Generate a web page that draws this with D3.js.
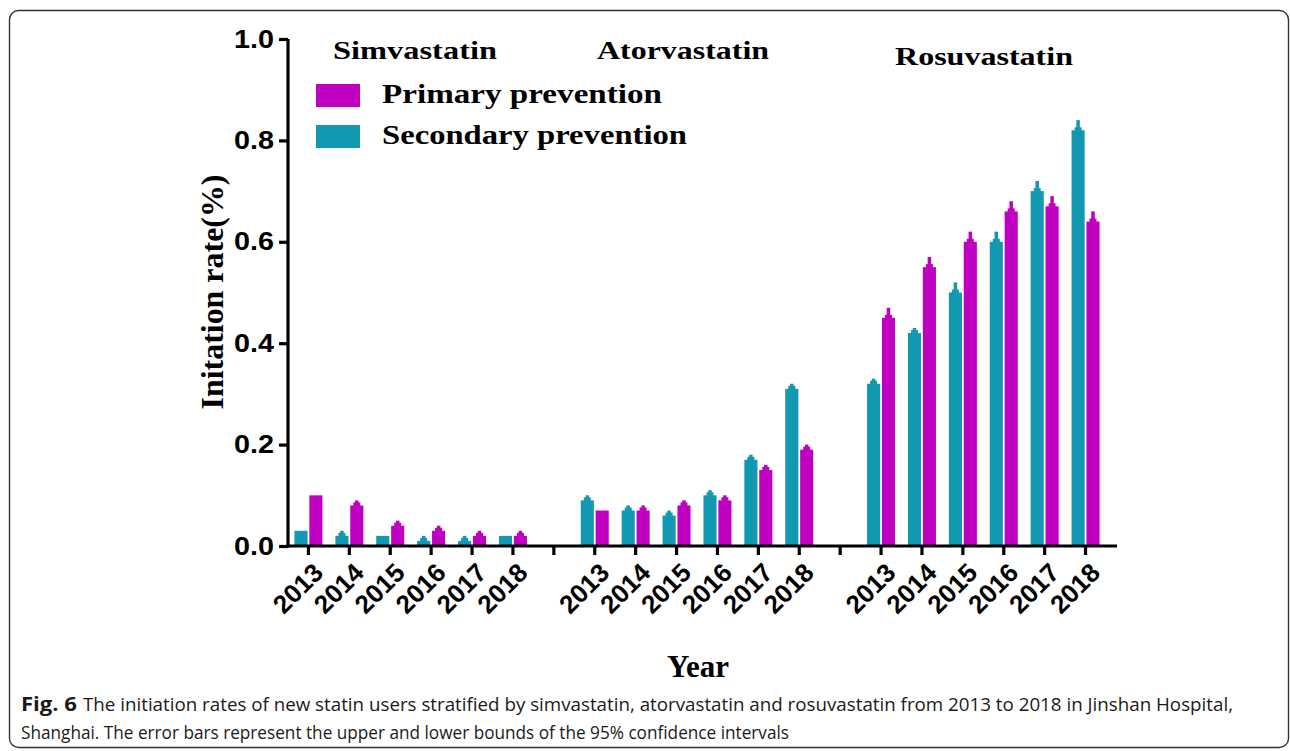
<!DOCTYPE html>
<html>
<head>
<meta charset="utf-8">
<script src="https://cdn.jsdelivr.net/npm/d3@7"></script>
<style>
  html, body { margin: 0; padding: 0; background: #fff; }
  svg { display: block; }
</style>
</head>
<body>
<svg id="chart" width="1290" height="751"></svg>
<script>
// Statin groups and study years
const drugs = ["Simvastatin", "Atorvastatin", "Rosuvastatin"];
const years = ["2013", "2014", "2015", "2016", "2017", "2018"];
const seriesNames = ["Primary prevention", "Secondary prevention"];
const yTicks = [0, 0.2, 0.4, 0.6, 0.8, 1.0];

// Secondary prevention: initiation rate and upper 95% CI bound, per drug
const secondarySim  = [0.03, 0.02, 0.02, 0.01, 0.01, 0.02];
const secondaryAtor = [0.09, 0.07, 0.06, 0.10, 0.17, 0.31];
const secondaryRosu = [0.32, 0.42, 0.50, 0.60, 0.70, 0.82];
const secondaryUpperSim  = [0.03, 0.03, 0.02, 0.02, 0.02, 0.02];
const secondaryUpperAtor = [0.10, 0.08, 0.07, 0.11, 0.18, 0.32];
const secondaryUpperRosu = [0.33, 0.43, 0.52, 0.62, 0.72, 0.84];

// Primary prevention: initiation rate and upper 95% CI bound, per drug
const primarySim  = [0.10, 0.08, 0.04, 0.03, 0.02, 0.02];
const primaryAtor = [0.07, 0.07, 0.08, 0.09, 0.15, 0.19];
const primaryRosu = [0.45, 0.55, 0.60, 0.66, 0.67, 0.64];
const primaryUpperSim  = [0.10, 0.09, 0.05, 0.04, 0.03, 0.03];
const primaryUpperAtor = [0.07, 0.08, 0.09, 0.10, 0.16, 0.20];
const primaryUpperRosu = [0.47, 0.57, 0.62, 0.68, 0.69, 0.66];

const secondaryByDrug = [secondarySim, secondaryAtor, secondaryRosu];
const secondaryUpperByDrug = [secondaryUpperSim, secondaryUpperAtor, secondaryUpperRosu];
const primaryByDrug = [primarySim, primaryAtor, primaryRosu];
const primaryUpperByDrug = [primaryUpperSim, primaryUpperAtor, primaryUpperRosu];

const colors = { primary: "#c000c0", secondary: "#1298b1" };

// Slots along the x axis: six years per drug, with an empty slot between groups
const slots = [];
drugs.forEach((d, i) => {
  years.forEach(y => slots.push({ key: d + "|" + y, drug: d, year: y }));
  if (i < drugs.length - 1) slots.push({ key: "gap" + i, drug: null, year: "" });
});

// Flattened bar records
const bars = [];
drugs.forEach((d, di) => {
  years.forEach((y, yi) => {
    bars.push({ slot: d + "|" + y, series: "secondary", value: secondaryByDrug[di][yi], upper: secondaryUpperByDrug[di][yi] });
    bars.push({ slot: d + "|" + y, series: "primary", value: primaryByDrug[di][yi], upper: primaryUpperByDrug[di][yi] });
  });
});

const svg = d3.select("#chart");
const serif = "'Liberation Serif', 'Times New Roman', serif";
const sans = "'Liberation Sans', Arial, sans-serif";

// Figure frame
svg.append("rect")
  .attr("x", 9.5).attr("y", 10.5)
  .attr("width", 1279).attr("height", 737)
  .attr("rx", 9).attr("ry", 9)
  .attr("fill", "none").attr("stroke", "#333").attr("stroke-width", 1.4);

const x = d3.scaleBand().domain(slots.map(s => s.key)).range([288, 1106]).padding(0);
const y = d3.scaleLinear().domain([0, 1]).range([546, 39]);
const inner = d3.scaleBand().domain(["secondary", "primary"]).range([-14, 14]).paddingInner(0.12);

const plot = svg.append("g");

// Bars
plot.selectAll("rect.bar").data(bars).join("rect")
  .attr("class", "bar")
  .attr("x", d => x(d.slot) + x.bandwidth() / 2 + inner(d.series))
  .attr("y", d => y(d.value))
  .attr("width", inner.bandwidth())
  .attr("height", d => y(0) - y(d.value))
  .attr("fill", d => colors[d.series]);

// Error bars (upper half, above the bar top)
const err = plot.selectAll("g.err").data(bars.filter(d => d.upper > d.value)).join("g").attr("class", "err");
err.append("rect")
  .attr("x", d => x(d.slot) + x.bandwidth() / 2 + inner(d.series) + inner.bandwidth() / 2 - 1.75)
  .attr("y", d => y(d.upper))
  .attr("width", 3.5)
  .attr("height", d => y(d.value) - y(d.upper))
  .attr("fill", d => colors[d.series]);
err.append("rect")
  .attr("x", d => x(d.slot) + x.bandwidth() / 2 + inner(d.series) + inner.bandwidth() / 2 - 3.5)
  .attr("y", d => y(d.value) - 3)
  .attr("width", 7)
  .attr("height", 3.5)
  .attr("fill", d => colors[d.series]);

// Y axis
const yAxis = svg.append("g")
  .attr("transform", "translate(288,0)")
  .call(d3.axisLeft(y).tickValues(yTicks).tickFormat(d3.format(".1f")).tickSize(9).tickPadding(5));
yAxis.select(".domain").attr("stroke", "#000").attr("stroke-width", 3.2).attr("d", "M0," + y(1) + "V" + (y(0) + 1.5));
yAxis.selectAll(".tick line").attr("stroke", "#000").attr("stroke-width", 3.2);
yAxis.selectAll(".tick text")
  .attr("font-family", sans).attr("font-weight", "bold").attr("font-size", 25)
  .attr("fill", "#000")
  .attr("textLength", 40).attr("lengthAdjust", "spacingAndGlyphs");

// X axis
const xAxis = svg.append("g")
  .attr("transform", "translate(0,546)")
  .call(d3.axisBottom(x).tickSize(9).tickFormat(k => (slots.find(s => s.key === k).year)));
xAxis.select(".domain").attr("stroke", "#000").attr("stroke-width", 3.2).attr("d", "M286.5,0H1117");
xAxis.selectAll(".tick line").attr("stroke", "#000").attr("stroke-width", 3.2);
xAxis.selectAll(".tick text")
  .attr("font-family", sans).attr("font-weight", "bold").attr("font-size", 26)
  .attr("fill", "#000")
  .attr("text-anchor", "end")
  .attr("x", 0).attr("y", 0).attr("dy", "0.72em")
  .attr("transform", "translate(3,15) rotate(-45)");

// Drug group titles
const groupTitles = [
  { text: drugs[0], x: 333, y: 59, len: 164 },
  { text: drugs[1], x: 597, y: 59, len: 172 },
  { text: drugs[2], x: 895, y: 65, len: 178 }
];
svg.selectAll("text.group").data(groupTitles).join("text")
  .attr("class", "group")
  .attr("x", d => d.x).attr("y", d => d.y)
  .attr("font-family", serif).attr("font-weight", "bold").attr("font-size", 26)
  .attr("textLength", d => d.len).attr("lengthAdjust", "spacingAndGlyphs")
  .text(d => d.text);

// Legend
const legend = [
  { name: seriesNames[0], key: "primary", y: 84, len: 280 },
  { name: seriesNames[1], key: "secondary", y: 125, len: 305 }
];
const lg = svg.selectAll("g.legend").data(legend).join("g").attr("class", "legend");
lg.append("rect")
  .attr("x", 316).attr("y", d => d.y).attr("width", 44).attr("height", 23)
  .attr("fill", d => colors[d.key]);
lg.append("text")
  .attr("x", 382).attr("y", d => d.y + 19)
  .attr("font-family", serif).attr("font-weight", "bold").attr("font-size", 28)
  .attr("textLength", d => d.len).attr("lengthAdjust", "spacingAndGlyphs")
  .text(d => d.name);

// Axis titles
svg.append("text")
  .attr("transform", "translate(223,292) rotate(-90)")
  .attr("text-anchor", "middle")
  .attr("font-family", serif).attr("font-weight", "bold").attr("font-size", 31)
  .attr("textLength", 235).attr("lengthAdjust", "spacingAndGlyphs")
  .text("Initation rate(%)");

svg.append("text")
  .attr("x", 698).attr("y", 677)
  .attr("text-anchor", "middle")
  .attr("font-family", serif).attr("font-weight", "bold").attr("font-size", 31)
  .text("Year");

// Caption
const captionFont = "'Open Sans', sans-serif";
svg.append("text")
  .attr("x", 21).attr("y", 711)
  .attr("font-family", captionFont).attr("font-size", 20).attr("font-weight", "bold").attr("fill", "#1a1a1a")
  .attr("textLength", 56).attr("lengthAdjust", "spacingAndGlyphs")
  .text("Fig. 6");
svg.append("text")
  .attr("x", 83).attr("y", 711)
  .attr("font-family", captionFont).attr("font-size", 19).attr("fill", "#1a1a1a")
  .attr("textLength", 1150).attr("lengthAdjust", "spacingAndGlyphs")
  .text("The initiation rates of new statin users stratified by simvastatin, atorvastatin and rosuvastatin from 2013 to 2018 in Jinshan Hospital,");
svg.append("text")
  .attr("x", 21).attr("y", 739)
  .attr("font-family", captionFont).attr("font-size", 19).attr("fill", "#1a1a1a")
  .attr("textLength", 768).attr("lengthAdjust", "spacingAndGlyphs")
  .text("Shanghai. The error bars represent the upper and lower bounds of the 95% confidence intervals");
</script>
</body>
</html>
